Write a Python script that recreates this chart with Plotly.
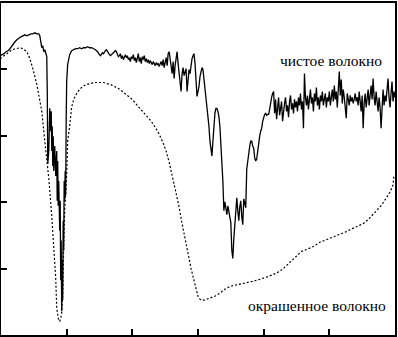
import plotly.graph_objects as go

# Spectrum readings: x = channel position, y = absorption depth (larger = lower on chart)
clean_x = [0, 2, 4, 6, 8, 10, 12, 13, 15, 17, 19, 21, 23, 25, 27, 29, 31, 33, 35, 37, 39, 40,
           41, 42, 43, 44, 45, 46, 47, 47.5, 48, 49, 49.5, 50, 51, 51.5, 52, 52.5, 53, 53.5, 54,
           55, 56, 57, 57.5, 58, 58.5, 59, 60, 60.5, 61, 61.5, 62, 62.5, 63, 63.5, 64, 64.5, 65,
           65.5, 66, 66.5, 67, 68, 69, 70, 72, 74, 76, 78, 80, 82, 84, 86, 88, 90, 92, 94, 96, 98,
           99, 100, 101, 102, 103, 104, 105, 106, 107, 108, 109, 110, 111, 112, 113, 114, 115, 116,
           117, 118, 119, 120, 121, 122, 123, 124, 125, 126, 127, 128, 129, 130, 131, 132, 133, 134,
           135, 136, 137, 138, 139, 140, 141, 142, 143, 144, 145, 146, 147, 148, 149, 150, 151, 152,
           153, 154, 155, 156, 157, 158, 159, 160, 161, 162, 163, 164, 165, 166, 167, 168, 169, 170,
           171, 172, 173, 174, 175, 176, 177, 178, 179, 180, 181, 182, 183, 184, 185, 186, 187, 188,
           189, 190, 191, 192, 193, 194, 195, 196, 197, 198, 199, 200, 201, 202, 203, 204, 205, 206,
           207, 208, 209, 210, 211, 212, 213, 214, 215, 216, 217, 218, 219, 220, 221, 222, 223, 224,
           225, 226, 227, 228, 229, 230, 231, 232, 233, 234, 235, 236, 237, 238, 239, 240, 241, 242,
           243, 244, 245, 246, 247, 248, 249, 250, 251, 252, 253, 254, 255, 256, 257, 258, 259, 260,
           261, 262, 263, 264, 265, 266, 267, 268, 269, 270, 271, 272, 273, 274,
           275, 276, 277, 278, 279, 280, 281, 282, 283, 284, 285, 286, 287, 288, 289, 290, 291, 292,
           293, 294, 295, 296, 297, 298, 299, 300, 301, 302, 303, 304, 305, 306, 307, 308, 309, 310,
           311, 312, 313, 314, 315, 316, 317, 318, 319, 320, 321, 322, 323, 324, 325, 326, 327, 328,
           329, 330, 331, 332, 333, 334, 335, 336, 337, 338, 339, 340, 341, 342, 343, 344, 345, 346,
           347, 348, 349, 350, 351, 352, 353, 354, 355, 356, 357, 358, 359, 360, 361, 362, 363, 364,
           365, 366, 367, 368, 369, 370, 371, 372, 373, 374, 375, 376, 377, 378, 379, 380, 381, 382,
           383, 384, 385, 386, 387, 388, 389, 390, 391, 392, 393, 394, 395, 396, 397]
clean_y = [54, 53, 52, 50, 49, 47, 44, 42, 40, 38, 36, 35, 34, 33, 34, 33, 32, 32, 31, 32, 32, 34,
           43, 46, 44, 50, 48, 52, 55, 90, 163, 150, 120, 107, 130, 110, 150, 125, 165, 135, 170,
           145, 175, 150, 200, 160, 205, 180, 230, 200, 280, 240, 311, 260, 300, 220, 250, 180, 200,
           170, 195, 120, 80, 63, 56, 53, 49, 48, 47, 47, 46, 47, 46, 46, 45, 46, 46, 47, 48, 50,
           52, 53, 54, 52, 51, 52, 50, 49, 48, 50, 52, 53, 54, 53, 52, 51, 50, 49,
           50, 53, 55, 54, 52, 57, 54, 58, 55, 53, 56, 54, 58, 56, 60, 55, 57, 53,
           59, 56, 61, 57, 52, 60, 56, 62, 55, 58, 54, 60, 57, 61, 58, 62, 59, 61,
           63, 60, 62, 64, 61, 63, 62, 65, 62, 60, 64, 58, 66, 62, 56, 64, 52, 50,
           58, 68, 72, 60, 77, 64, 55, 50, 62, 70, 76, 90, 72, 66, 74, 70, 67, 90,
           80, 68, 72, 63, 57, 54, 52, 62, 80, 95, 90, 85, 75, 68, 66, 68, 78, 88,
           96, 103, 112, 125, 140, 150, 155, 140, 122, 112, 107, 107, 110, 115, 125, 140, 155, 180,
           210, 201, 207, 214, 205, 212, 218, 222, 250, 258, 238, 225, 205, 197, 210, 220, 206, 200,
           216, 224, 198, 202, 207, 168, 158, 150, 145, 140, 140, 145, 147, 157, 160, 158, 150, 137,
           135, 130, 127, 120, 116, 113, 112, 114, 113, 113, 108, 100, 96, 92,
           90, 112, 98, 118, 104, 96, 114, 106, 100, 120, 108, 102, 96, 110, 104, 116, 100, 94,
           108, 102, 112, 98, 106, 100, 110, 96, 104, 92, 108, 100, 127, 72, 96, 104, 94, 108,
           98, 88, 102, 96, 110, 92, 100, 86, 104, 96, 108, 94, 100, 90, 104, 98, 92, 106,
           96, 100, 90, 104, 94, 88, 100, 84, 98, 90, 106, 80, 70, 94, 78, 102, 88, 96,
           108, 117, 92, 98, 104, 94, 100, 96, 102, 98, 92, 100, 96, 104, 90, 100, 110, 94,
           127, 102, 92, 106, 96, 88, 104, 92, 84, 98, 77, 96, 104, 90, 100, 110, 96, 106,
           127, 98, 88, 104, 94, 100, 84, 77, 96, 106, 92, 80, 100, 90, 96]

dyed_x = [0, 3, 7, 12, 17, 20, 23, 27, 30, 33, 37, 40, 42, 45, 47, 49, 52, 54, 56, 57, 58, 59,
          60, 61, 62, 63, 64, 65, 67, 68, 70, 72, 74, 77, 80, 83, 87, 90, 95, 100, 104, 107, 111,
          115, 119, 123, 128, 133, 138, 143, 148, 152, 156, 160, 164, 167, 170, 172, 175, 177, 180,
          182, 185, 187, 190, 192, 195, 197, 199, 201, 203, 205, 208, 211, 216, 221, 226, 231, 236,
          241, 248, 254, 261, 265, 270, 275, 281, 286, 290, 294, 298, 303, 308, 315, 321, 326, 331,
          337, 342, 348, 354, 360, 365, 370, 374, 378, 382, 385, 388, 391, 393, 395, 396]
dyed_y = [57, 55, 52, 48, 47, 46, 47, 50, 57, 67, 83, 100, 110, 140, 160, 177, 215, 245, 278, 308,
          318, 321, 321, 319, 313, 295, 247, 210, 173, 140, 125, 106, 98, 92, 88, 85, 83, 82, 81,
          81, 81, 82, 83, 85, 87, 90, 94, 98, 104, 110, 115, 120, 126, 133, 142, 150, 161, 170, 181,
          191, 206, 218, 234, 245, 258, 268, 280, 288, 296, 299, 300, 300, 299, 298, 296, 293, 289,
          286, 285, 284, 282, 281, 279, 278, 276, 274, 271, 267, 263, 259, 255, 251, 249, 246, 242,
          240, 238, 236, 234, 231, 228, 225, 223, 219, 215, 211, 206, 202, 198, 193, 189, 184, 174]

x_ticks = [67, 133, 199, 265, 331]
y_ticks = [67, 135, 201, 269]
labels = ["чистое волокно", "окрашенное волокно"]
label_x = [333, 319]
label_y = [59, 305]

fig = go.Figure()
fig.add_trace(go.Scatter(x=clean_x, y=clean_y, mode="lines",
                         line=dict(color="black", width=1.3), hoverinfo="skip"))
fig.add_trace(go.Scatter(x=dyed_x, y=dyed_y, mode="lines",
                         line=dict(color="black", width=1.2, dash="2px,2px"), hoverinfo="skip"))

for t, lx, ly in zip(labels, label_x, label_y):
    fig.add_annotation(x=lx, y=ly, xref="x", yref="y", text=t, showarrow=False,
                       font=dict(family="Liberation Serif", size=15.5, color="black"))

axis_common = dict(showline=True, linecolor="black", linewidth=2, mirror=True,
                   ticks="inside", ticklen=6, tickwidth=2, tickcolor="black",
                   showticklabels=False, showgrid=False, zeroline=False)
fig.update_xaxes(range=[1, 397], tickvals=x_ticks, **axis_common)
fig.update_yaxes(range=[335, 1], tickvals=y_ticks, **axis_common)

fig.update_layout(width=398, height=337, margin=dict(l=1, r=1, t=1, b=2),
                  paper_bgcolor="white", plot_bgcolor="white", showlegend=False)

fig.write_html("out.html", config={"staticPlot": True},
               post_script="document.body.style.margin='0';document.body.style.overflow='hidden';")
